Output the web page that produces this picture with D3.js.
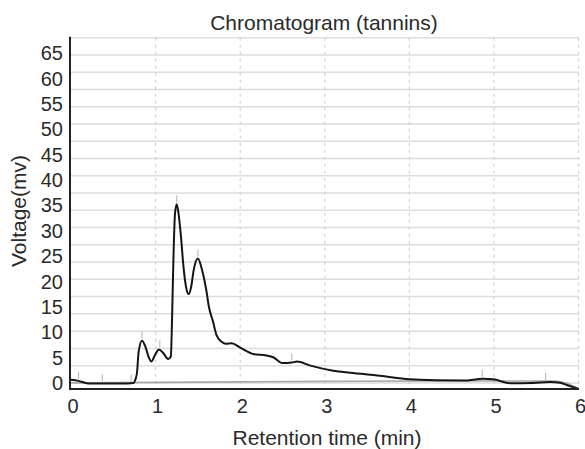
<!DOCTYPE html>
<html>
<head>
<meta charset="utf-8">
<script src="https://cdn.jsdelivr.net/npm/d3@7"></script>
<style>
  html, body { margin: 0; padding: 0; background: #fff; }
  svg { display: block; font-family: "Liberation Sans", Arial, sans-serif; }
</style>
</head>
<body>
<svg id="chart" width="585" height="449"></svg>
<script>
// ---- data ----
const title = "Chromatogram (tannins)";
const xLabel = "Retention time (min)";
const yLabel = "Voltage(mv)";
const xTicks = [0, 1, 2, 3, 4, 5, 6];
const yTicks = [0, 5, 10, 15, 20, 25, 30, 35, 40, 45, 50, 55, 60, 65];

// signal trace: retention time (min)
const traceTime = [0.00, 0.09, 0.20, 0.40, 0.60, 0.74, 0.76, 0.78, 0.80, 0.84, 0.88, 0.92, 0.95,
  0.99, 1.04, 1.09, 1.15, 1.18, 1.195, 1.21, 1.23, 1.25, 1.27, 1.30, 1.33, 1.36, 1.39,
  1.42, 1.45, 1.50, 1.55, 1.60, 1.63, 1.68, 1.72, 1.78, 1.83, 1.90, 2.00, 2.15, 2.31,
  2.39, 2.50, 2.61, 2.67, 2.83, 3.10, 3.30, 3.65, 4.00, 4.32, 4.64, 4.87, 4.99, 5.19,
  5.46, 5.66, 5.78, 5.86, 6.00];
// signal trace: voltage (mv)
const traceVolt = [0.6, 0.4, -0.1, -0.1, -0.1, 0.0, 0.6, 2.0, 6.2, 8.3, 7.1, 5.0, 4.2,
  5.4, 6.6, 5.9, 4.7, 5.2, 13.0, 24.0, 33.5, 35.2, 33.5, 28.8, 22.8, 18.9, 17.5,
  18.9, 22.2, 24.5, 22.2, 18.2, 15.0, 12.0, 9.4, 8.1, 7.7, 7.8, 6.95, 5.7, 5.4,
  5.05, 3.9, 4.0, 4.2, 3.4, 2.4, 2.0, 1.4, 0.7, 0.5, 0.45, 0.8, 0.7, -0.05,
  0.0, 0.2, 0.05, -0.4, -1.2];

// baseline trace (grey)
const baseTime = [0.00, 1.5, 3.0, 4.5, 5.7, 5.85, 6.00];
const baseVolt = [0.0, 0.15, 0.3, 0.4, 0.35, 0.0, -1.2];

// detected peak markers
const peakTime = [0.09, 0.37, 0.71, 0.84, 1.05, 1.25, 1.50, 2.61, 4.86, 5.61];
const peakVolt = [0.4, -0.1, -0.1, 8.3, 6.6, 35.2, 24.5, 4.0, 0.8, 0.2];

// ---- layout ----
const svg = d3.select("#chart");
const W = 585, H = 449;
const pLeft = 70, pRight = 579, pTop = 37.7, pBottom = 389;

const x = d3.scaleLinear().domain([0, 6]).range([71, 578.6]);
const y = d3.scaleLinear().domain([-1.2, 68]).range([pBottom, pTop]);

svg.append("rect").attr("width", W).attr("height", H).attr("fill", "#fff");

// horizontal grid (20 equal divisions of the frame)
const gridVals = d3.range(0, 21).map(i => i * 68 / 20);
svg.append("g").selectAll("line").data(gridVals).join("line")
  .attr("x1", pLeft).attr("x2", pRight)
  .attr("y1", d => y(d)).attr("y2", d => y(d))
  .attr("stroke", "#dcdcdc").attr("stroke-width", 1.5);

// vertical dashed grid
svg.append("g").selectAll("line").data(xTicks.slice(1)).join("line")
  .attr("x1", d => x(d)).attr("x2", d => x(d))
  .attr("y1", pTop).attr("y2", pBottom)
  .attr("stroke", "#d0d0d0").attr("stroke-width", 1.2)
  .attr("stroke-dasharray", "3,4");

// baseline trace
const lineB = d3.line().x((d, i) => x(baseTime[i])).y(d => y(d)).curve(d3.curveMonotoneX);
svg.append("path").datum(baseVolt).attr("d", lineB)
  .attr("fill", "none").attr("stroke", "#a8a8a8").attr("stroke-width", 1.6);

// peak markers
svg.append("g").selectAll("line").data(peakVolt).join("line")
  .attr("x1", (d, i) => x(peakTime[i])).attr("x2", (d, i) => x(peakTime[i]))
  .attr("y1", d => y(d) - 2).attr("y2", d => y(d) - 9)
  .attr("stroke", "#b0b0b0").attr("stroke-width", 1);

// signal trace
const lineS = d3.line().x((d, i) => x(traceTime[i])).y(d => y(d)).curve(d3.curveMonotoneX);
svg.append("path").datum(traceVolt).attr("d", lineS)
  .attr("fill", "none").attr("stroke", "#151515").attr("stroke-width", 2)
  .attr("stroke-linejoin", "round");

// axes lines
svg.append("line").attr("x1", pLeft).attr("x2", pLeft).attr("y1", pTop - 1).attr("y2", pBottom + 1)
  .attr("stroke", "#222").attr("stroke-width", 2);
svg.append("line").attr("x1", pLeft - 1).attr("x2", pRight).attr("y1", pBottom).attr("y2", pBottom)
  .attr("stroke", "#222").attr("stroke-width", 2);

// y tick labels
svg.append("g").selectAll("text").data(yTicks).join("text")
  .attr("x", 63).attr("y", d => y(d)).attr("dy", "0.36em")
  .attr("text-anchor", "end").attr("font-size", 20).attr("fill", "#2a2a2a")
  .text(d => d);

// x tick labels
svg.append("g").selectAll("text").data(xTicks).join("text")
  .attr("x", d => x(d) + 2).attr("y", 413)
  .attr("text-anchor", "middle").attr("font-size", 20).attr("fill", "#2a2a2a")
  .text(d => d);

// title and axis titles
svg.append("text").attr("x", 324).attr("y", 30).attr("text-anchor", "middle")
  .attr("font-size", 21).attr("fill", "#2a2a2a").text(title);
svg.append("text").attr("x", 327).attr("y", 445).attr("text-anchor", "middle")
  .attr("font-size", 21).attr("fill", "#2a2a2a").text(xLabel);
svg.append("text").attr("transform", "translate(26,211) rotate(-90)")
  .attr("text-anchor", "middle").attr("font-size", 21).attr("fill", "#2a2a2a").text(yLabel);
</script>
</body>
</html>
